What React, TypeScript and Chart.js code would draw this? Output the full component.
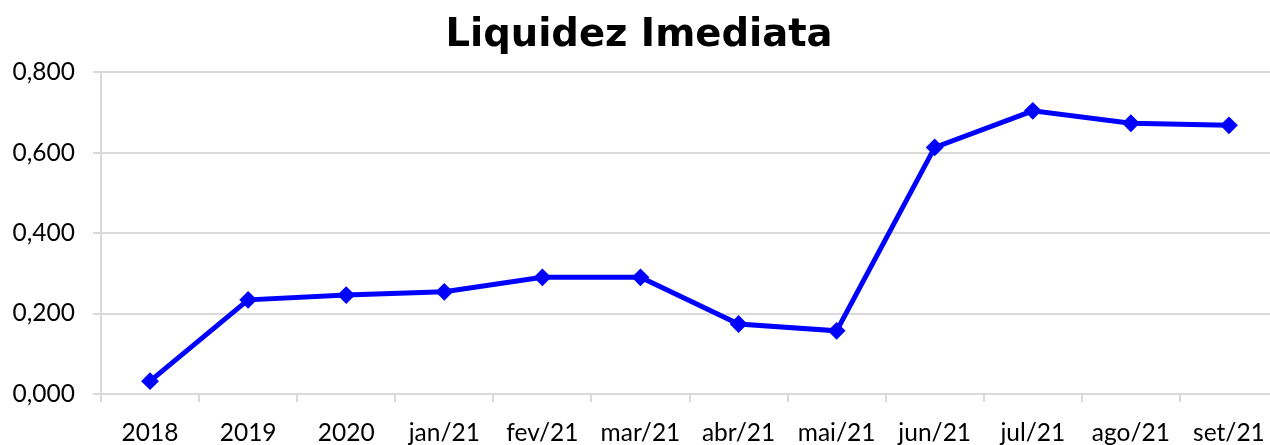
import React, { useEffect, useRef } from "react";
import { Chart, registerables } from "chart.js";

Chart.register(...registerables);

const TITLE = "Liquidez Imediata";
const categories = ["2018", "2019", "2020", "jan/21", "fev/21", "mar/21", "abr/21", "mai/21", "jun/21", "jul/21", "ago/21", "set/21"];
const values = [0.032, 0.234, 0.246, 0.254, 0.29, 0.29, 0.174, 0.157, 0.613, 0.704, 0.673, 0.668];
const yMin = 0;
const yMax = 0.8;
const yStep = 0.2;

const fmt = (v: number) => v.toFixed(3).replace(".", ",");

export default function App() {
  const ref = useRef<HTMLCanvasElement | null>(null);
  useEffect(() => {
    document.body.style.margin = "0";
    document.body.style.overflow = "hidden";
    const ctx = ref.current!;
    const chart = new Chart(ctx, {
      type: "line",
      data: {
        labels: categories,
        datasets: [
          {
            data: values,
            borderColor: "#0000ff",
            backgroundColor: "#0000ff",
            borderWidth: 5,
            pointStyle: "rectRot",
            pointRadius: 7.5,
            pointBorderWidth: 2,
            pointBackgroundColor: "#0000ff",
            pointBorderColor: "#0000ff",
            tension: 0,
          },
        ],
      },
      options: {
        animation: false,
        responsive: false,
        maintainAspectRatio: false,
        layout: { padding: { left: 0, right: 12, top: 0, bottom: 0 } },
        plugins: {
          legend: { display: false },
          tooltip: { enabled: false },
          title: {
            display: true,
            text: TITLE,
            color: "#000",
            font: { family: "DejaVu Sans", size: 38.5, weight: "bold" },
            lineHeight: 1.2,
            padding: { top: 13, bottom: 13 },
          },
        },
        scales: {
          x: {
            offset: true,
            grid: {
              offset: true,
              drawOnChartArea: false,
              drawTicks: true,
              tickLength: 8,
              color: "#d9d9d9",
              lineWidth: 2,
            },
            border: { display: true, color: "#d9d9d9", width: 2 },
            ticks: {
              color: "#000",
              font: { family: "Lato", size: 24.5 },
              maxRotation: 0,
              autoSkip: false,
              padding: 16,
            },
            afterFit: (s: any) => {
              s.height = 51;
            },
          },
          y: {
            min: yMin,
            max: yMax,
            grid: {
              color: "#d9d9d9",
              lineWidth: 2,
              drawTicks: true,
              tickLength: 8,
            },
            border: { display: true, color: "#d9d9d9", width: 2 },
            ticks: {
              stepSize: yStep,
              color: "#000",
              font: { family: "Lato", size: 24.5 },
              padding: 18,
              callback: (v: any) => fmt(Number(v)),
            },
            afterFit: (s: any) => {
              s.width = 101;
            },
          },
        },
      },
    });
    return () => chart.destroy();
  }, []);
  return (
    <div style={{ position: "fixed", left: 0, top: 0, width: 1270, height: 445, overflow: "hidden", background: "#fff" }}>
      <canvas ref={ref} width={1290} height={445} style={{ display: "block", width: 1290, height: 445 }} />
    </div>
  );
}
